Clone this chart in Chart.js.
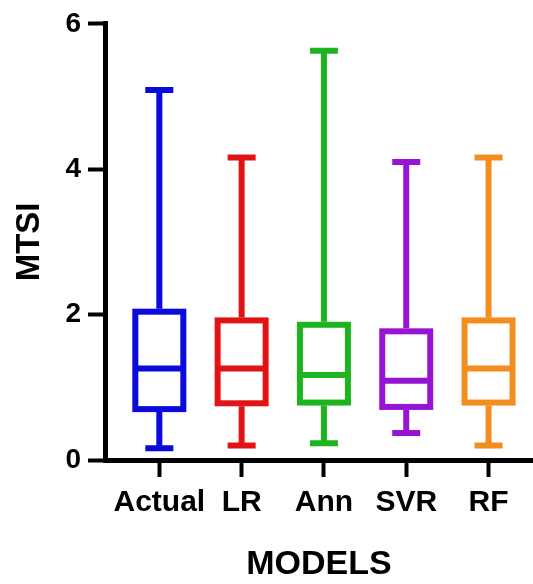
<!DOCTYPE html>
<html>
<head>
<meta charset="utf-8">
<script src="https://cdn.jsdelivr.net/npm/chart.js@4"></script>
<style>
  body { margin: 0; background: #fff; }
  #wrap { width: 533px; height: 584px; position: relative; }
</style>
</head>
<body>
<div id="wrap"><canvas id="myChart"></canvas></div>
<script>
// box plot values
var models = ['Actual', 'LR', 'Ann', 'SVR', 'RF'];
var mins = [0.16, 0.20, 0.23, 0.37, 0.20];
var q1 = [0.70, 0.78, 0.79, 0.73, 0.79];
var medians = [1.26, 1.26, 1.17, 1.09, 1.26];
var q3 = [2.04, 1.92, 1.86, 1.77, 1.92];
var maxs = [5.09, 4.16, 5.63, 4.10, 4.16];
var yTicks = [0, 2, 4, 6];
var colors = ['#0a0adc', '#e01414', '#1eb41e', '#9614d2', '#f58c1e'];

var boxWidth = 48;
var capWidth = 28;
var lineW = 6;

// draws the boxes, medians and whiskers using the chart scales
var boxPlotPlugin = {
    id: 'boxPlot',
    afterDatasetsDraw: function(chart) {
        var ctx = chart.ctx;
        var xs = chart.scales.x;
        var ys = chart.scales.y;
        ctx.save();
        ctx.lineWidth = lineW;
        ctx.lineCap = 'butt';
        for (var i = 0; i < models.length; i++) {
            var cx = xs.getPixelForValue(i);
            var yMin = ys.getPixelForValue(mins[i]);
            var yQ1 = ys.getPixelForValue(q1[i]);
            var yMed = ys.getPixelForValue(medians[i]);
            var yQ3 = ys.getPixelForValue(q3[i]);
            var yMax = ys.getPixelForValue(maxs[i]);
            ctx.strokeStyle = colors[i];
            // box
            ctx.strokeRect(cx - boxWidth / 2, yQ3, boxWidth, yQ1 - yQ3);
            ctx.beginPath();
            // median
            ctx.moveTo(cx - boxWidth / 2, yMed);
            ctx.lineTo(cx + boxWidth / 2, yMed);
            // whiskers
            ctx.moveTo(cx, yQ3 - lineW / 2);
            ctx.lineTo(cx, yMax);
            ctx.moveTo(cx, yQ1 + lineW / 2);
            ctx.lineTo(cx, yMin);
            // caps
            ctx.moveTo(cx - capWidth / 2, yMax);
            ctx.lineTo(cx + capWidth / 2, yMax);
            ctx.moveTo(cx - capWidth / 2, yMin);
            ctx.lineTo(cx + capWidth / 2, yMin);
            ctx.stroke();
        }
        ctx.restore();
    }
};

Chart.defaults.font.family = "'Liberation Sans', Arial, sans-serif";
Chart.defaults.color = '#000';

var ctx = document.getElementById('myChart').getContext('2d');
var chart = new Chart(ctx, {
    type: 'scatter',
    data: {
        datasets: [{
            label: 'median',
            data: models.map(function(m, i) { return { x: i, y: medians[i] }; }),
            pointRadius: 0,
            pointHoverRadius: 0
        }]
    },
    options: {
        responsive: true,
        maintainAspectRatio: false,
        animation: false,
        layout: { padding: { top: 22, right: 0, bottom: 0, left: 0 } },
        plugins: {
            legend: { display: false },
            tooltip: { enabled: false }
        },
        scales: {
            x: {
                type: 'linear',
                min: -0.66,
                max: 4.54,
                afterBuildTicks: function(axis) {
                    axis.ticks = models.map(function(m, i) { return { value: i }; });
                },
                afterFit: function(axis) { axis.height = 124; },
                ticks: {
                    autoSkip: false,
                    maxRotation: 0,
                    padding: 8,
                    font: { size: 30, weight: 'bold' },
                    callback: function(v) { return models[v]; }
                },
                grid: {
                    display: true,
                    drawOnChartArea: false,
                    drawTicks: true,
                    tickLength: 17,
                    tickWidth: 4,
                    tickColor: '#000'
                },
                border: { display: true, width: 5, color: '#000' },
                title: {
                    display: true,
                    text: 'MODELS',
                    font: { size: 34, weight: 'bold', lineHeight: 1 },
                    padding: { top: 0, bottom: 2 }
                }
            },
            y: {
                min: 0,
                max: 6,
                afterBuildTicks: function(axis) {
                    axis.ticks = yTicks.map(function(v) { return { value: v }; });
                },
                afterFit: function(axis) { axis.width = 105; },
                ticks: {
                    padding: 7,
                    font: { size: 28, weight: 'bold' }
                },
                grid: {
                    display: true,
                    drawOnChartArea: false,
                    drawTicks: true,
                    tickLength: 17,
                    tickWidth: 4,
                    tickColor: '#000'
                },
                border: { display: true, width: 5, color: '#000' },
                title: {
                    display: true,
                    text: 'MTSI',
                    font: { size: 33, weight: 'bold', lineHeight: 1 },
                    padding: { top: 13, bottom: 0 }
                }
            }
        }
    },
    plugins: [boxPlotPlugin]
});
</script>
</body>
</html>
